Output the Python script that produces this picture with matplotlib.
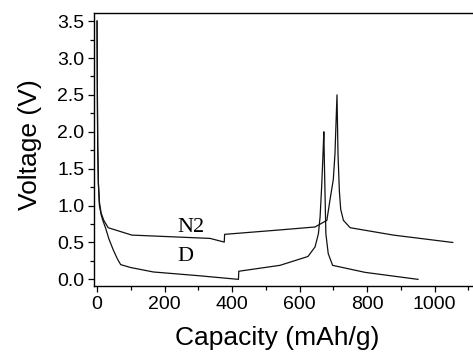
import matplotlib
matplotlib.use("Agg")
import matplotlib.pyplot as plt
from matplotlib.ticker import MultipleLocator

# Data
n2_cap = [0, 1, 2, 4, 7, 12, 20, 33, 103, 335, 377, 378, 542, 646, 681, 690,
          700, 705, 708, 711, 714, 718, 722, 730, 750, 878, 1054]
n2_volt = [3.5, 2.5, 1.8, 1.3, 1.05, 0.9, 0.8, 0.70, 0.60, 0.555, 0.505, 0.61, 0.67,
           0.71, 0.80, 1.07, 1.35, 1.7, 2.1, 2.5, 1.7, 1.2, 0.95, 0.80, 0.70, 0.60, 0.50]

d_cap = [0, 1, 2, 4, 7, 12, 17, 25, 35, 48, 60, 70, 100, 167, 300, 419, 420, 542,
         625, 646, 656, 661, 666, 670, 672, 674, 678, 685, 698, 794, 951]
d_volt = [3.5, 2.5, 1.8, 1.3, 1.0, 0.88, 0.80, 0.70, 0.55, 0.40, 0.28, 0.20, 0.16,
          0.10, 0.05, 0.0, 0.11, 0.19, 0.31, 0.44, 0.62, 0.85, 1.3, 1.75, 2.0, 1.5,
          0.62, 0.35, 0.19, 0.095, 0.0]

labels = ["N2", "D"]
label_pos = [(278, 0.70), (261, 0.31)]

fig = plt.figure(figsize=(4.73, 3.54), dpi=100)
ax = fig.add_axes([94 / 473, 68 / 354, 379 / 473, 273 / 354])

ax.plot(n2_cap, n2_volt, color="#111111", lw=0.9)
ax.plot(d_cap, d_volt, color="#111111", lw=0.9)

for lab, (x, y) in zip(labels, label_pos):
    ax.text(x, y, lab, family="Liberation Serif", fontsize=16,
            ha="center", va="center")

ax.set_xlim(-9, 1114)
ax.set_ylim(-0.09, 3.61)
ax.xaxis.set_major_locator(MultipleLocator(200))
ax.xaxis.set_minor_locator(MultipleLocator(100))
ax.yaxis.set_major_locator(MultipleLocator(0.5))
ax.yaxis.set_minor_locator(MultipleLocator(0.25))
ax.yaxis.set_major_formatter(matplotlib.ticker.FormatStrFormatter("%.1f"))

ax.spines["right"].set_visible(False)
for s in ax.spines.values():
    s.set_linewidth(1.0)

ax.tick_params(which="both", direction="out", top=False, right=False,
               labelsize=14, width=0.9)
ax.tick_params(which="major", length=4, pad=3)
ax.tick_params(which="minor", length=3)
for t in ax.get_xticklabels() + ax.get_yticklabels():
    t.set_family("Liberation Sans")

ax.set_xlabel("Capacity (mAh/g)", family="Liberation Sans", fontsize=19)
ax.set_ylabel("Voltage (V)", family="Liberation Sans", fontsize=19)
ax.xaxis.set_label_coords((277.5 - 94) / 379, -(338 - 286) / 273)
ax.yaxis.set_label_coords(-(94 - 30) / 379, (354 - 145 - 68) / 273)
ax.xaxis.label.set_va("center")
ax.yaxis.label.set_va("center")

fig.savefig("out.png", dpi=100)
